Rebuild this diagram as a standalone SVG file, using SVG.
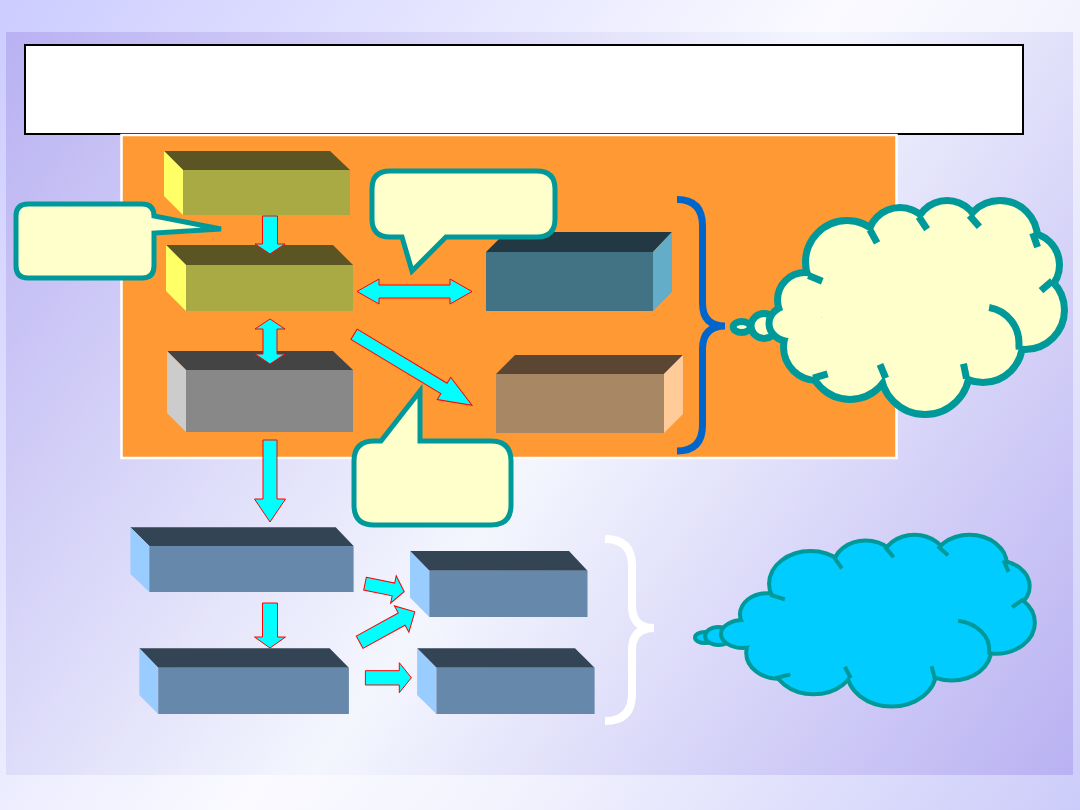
<svg xmlns="http://www.w3.org/2000/svg" width="1080" height="810" viewBox="0 0 1080 810">
<defs>
<linearGradient id="bgOuter" gradientUnits="userSpaceOnUse" x1="0" y1="0" x2="1080" y2="810">
<stop offset="0" stop-color="#ccccff"/>
<stop offset="0.5" stop-color="#fafaff"/>
<stop offset="0.65" stop-color="#f3f3fe"/>
<stop offset="1" stop-color="#ccccfa"/>
</linearGradient>
<linearGradient id="bgInner" gradientUnits="userSpaceOnUse" x1="6" y1="32" x2="1073" y2="775">
<stop offset="0" stop-color="#b9b1f2"/>
<stop offset="0.52" stop-color="#f4f6fe"/>
<stop offset="1" stop-color="#b9b1f2"/>
</linearGradient>
</defs>
<style>
.arrow{fill:#00ffff;stroke:#ff0000;stroke-width:1;stroke-linejoin:miter}
.callout{fill:#ffffcc;stroke:#009999;stroke-width:5;stroke-linejoin:miter}
.olT{fill:#5a5522}.olF{fill:#aaaa44}.olS{fill:#ffff66}
.grT{fill:#444444}.grF{fill:#888888}.grS{fill:#cccccc}
.tlT{fill:#223843}.tlF{fill:#427385}.tlS{fill:#64adc8}
.brT{fill:#5a4632}.brF{fill:#a88864}.brS{fill:#ffcc99}
.blT{fill:#334455}.blF{fill:#6688aa}.blS{fill:#99ccff}
.cl1 .b{fill:#ffffcc;stroke:#009999;stroke-width:7}
.cl1 .o{fill:#ffffcc;stroke:#009999;stroke-width:14}
.cl1 .f{fill:#ffffcc;stroke:none}
.cl1 .t{fill:none;stroke:#009999;stroke-width:7}
.cl2 *{vector-effect:non-scaling-stroke}
.cl2 .b{fill:#00ccff;stroke:#009999;stroke-width:4}
.cl2 .o{fill:#00ccff;stroke:#009999;stroke-width:8}
.cl2 .f{fill:#00ccff;stroke:none}
.cl2 .t{fill:none;stroke:#009999;stroke-width:4}
</style>
<rect width="1080" height="810" fill="url(#bgOuter)"/>
<rect x="6" y="32" width="1067" height="743" fill="url(#bgInner)"/>
<rect id="title-box" x="25" y="45" width="998" height="89" fill="#ffffff" stroke="#000000" stroke-width="2"/>
<rect id="panel" x="121.5" y="135" width="775" height="323" fill="#ff9933" stroke="#ffffff" stroke-width="2.5"/>
<path id="brace-blue" d="M677,199.5 Q702.5,199.5 702.5,226 V303 Q702.5,326 725,326 Q702.5,326 702.5,349 V425 Q702.5,451 677,451" fill="none" stroke="#0066cc" stroke-width="7"/>
<path id="brace-white" d="M605,539 Q632,539 632,566 V606 Q632,628 654,628 Q632,628 632,650 V694 Q632,721 605,721" fill="none" stroke="#ffffff" stroke-width="8"/>

<g id="box-1">
<polygon class="olT" points="164,151 330,151 350,170 183,170"/>
<polygon class="olS" points="164,151 183,170 183,215 164,196"/>
<rect class="olF" x="183" y="170" width="167" height="45"/>
</g>
<g id="box-2">
<polygon class="olT" points="166,245 333,245 353,265 186,265"/>
<polygon class="olS" points="166,245 186,265 186,311 166,291"/>
<rect class="olF" x="186" y="265" width="167" height="46"/>
</g>
<g id="box-3">
<polygon class="grT" points="167,351 333,351 353,370 186,370"/>
<polygon class="grS" points="167,351 186,370 186,432 167,413"/>
<rect class="grF" x="186" y="370" width="167" height="62"/>
</g>
<g id="box-4">
<polygon class="tlT" points="506,232 672,232 653,252 486,252"/>
<polygon class="tlS" points="653,252 672,232 672,292 653,311"/>
<rect class="tlF" x="486" y="252" width="167" height="59"/>
</g>
<g id="box-5">
<polygon class="brT" points="515,355 683,355 664,374 496,374"/>
<polygon class="brS" points="664,374 683,355 683,414 664,433"/>
<rect class="brF" x="496" y="374" width="168" height="59"/>
</g>
<g id="box-6">
<polygon class="blT" points="130.4,527.3 335.7,527.3 353.6,546 149.3,546"/>
<polygon class="blS" points="130.4,527.3 149.3,546 149.3,592 130.4,574"/>
<rect class="blF" x="149.3" y="546" width="204.3" height="46"/>
</g>
<g id="box-7">
<polygon class="blT" points="139.3,648.3 329.6,648.3 348.9,667.7 158.2,667.7"/>
<polygon class="blS" points="139.3,648.3 158.2,667.7 158.2,714 139.3,695"/>
<rect class="blF" x="158.2" y="667.7" width="190.7" height="46.3"/>
</g>
<g id="box-8">
<polygon class="blT" points="410,551 569,551 587.5,570.7 429.3,570.7"/>
<polygon class="blS" points="410,551 429.3,570.7 429.3,617 410,597.5"/>
<rect class="blF" x="429.3" y="570.7" width="158.2" height="46.3"/>
</g>
<g id="box-9">
<polygon class="blT" points="417.1,648.3 575,648.3 594.6,667.7 436.4,667.7"/>
<polygon class="blS" points="417.1,648.3 436.4,667.7 436.4,714 417.1,695"/>
<rect class="blF" x="436.4" y="667.7" width="158.2" height="46.3"/>
</g>

<g id="callout-1">
<path class="callout" d="M28,204 H142 Q154,204 154,216 L221,229 L154,233 V266 Q154,278 142,278 H28 Q16,278 16,266 V216 Q16,204 28,204 Z"/>
</g>
<g id="callout-2">
<path class="callout" d="M390,171 H537 Q555,171 555,189 V219 Q555,237 537,237 H446 L412,271 L402,237 H390 Q372,237 372,219 V189 Q372,171 390,171 Z"/>
</g>
<g id="callout-3">
<path class="callout" d="M374,441 H381 L420,391 V441 H491 Q511,441 511,461 V505 Q511,525 491,525 H374 Q354,525 354,505 V461 Q354,441 374,441 Z"/>
</g>

<g id="connectors">
<polygon class="arrow" points="262.5,216 277.5,216 277.5,244 285,244 270,254 255,244 262.5,244"/>
<polygon class="arrow" points="270,319 285,329 277,329 277,354 285,354 270,364 255,354 263,354 263,329 255,329"/>
<polygon class="arrow" points="357,291.5 379,279 379,285 450,285 450,279 472,291.5 450,304 450,298 379,298 379,304"/>
<polygon class="arrow" transform="translate(354,334.3) rotate(31.03)" points="0,-6 105,-6 105,-13 137.7,0 105,13 105,6 0,6"/>
<polygon class="arrow" points="263,440 277,440 277,499 285.5,499 270,522 254.5,499 263,499"/>
<polygon class="arrow" points="262.5,603 277.5,603 277.5,637 285.5,637 270,648 254.5,637 262.5,637"/>
<polygon class="arrow" transform="translate(365,583.7) rotate(11.5)" points="0,-6.5 29,-6.5 29,-14 40,0 29,14 29,6.5 0,6.5"/>
<polygon class="arrow" transform="translate(359.6,642.2) rotate(-28.8)" points="0,-7 48,-7 48,-15 63,0 48,15 48,7 0,7"/>
<polygon class="arrow" points="365.4,670.7 399.3,670.7 399.3,662.7 411.4,677.7 399.3,692.7 399.3,685 365.4,685"/>
</g>

<g id="cloud-1" class="cl1">
<circle class="o" cx="847" cy="262" r="38"/>
<circle class="o" cx="900" cy="240" r="29"/>
<circle class="o" cx="947" cy="233" r="29"/>
<circle class="o" cx="1000" cy="238" r="34"/>
<circle class="o" cx="1027" cy="265" r="29"/>
<circle class="o" cx="1025" cy="310" r="36"/>
<circle class="o" cx="983" cy="343" r="36"/>
<circle class="o" cx="925" cy="370" r="41"/>
<circle class="o" cx="850" cy="358" r="38"/>
<circle class="o" cx="817" cy="347" r="30"/>
<circle class="o" cx="805" cy="300" r="24"/>
<ellipse class="b" cx="741.7" cy="327" rx="8.5" ry="5.5"/>
<ellipse class="b" cx="764" cy="326" rx="13" ry="12.5"/>
<ellipse class="b" cx="790" cy="323.5" rx="21" ry="18"/>
<circle class="f" cx="847" cy="262" r="38"/>
<circle class="f" cx="900" cy="240" r="29"/>
<circle class="f" cx="947" cy="233" r="29"/>
<circle class="f" cx="1000" cy="238" r="34"/>
<circle class="f" cx="1027" cy="265" r="29"/>
<circle class="f" cx="1025" cy="310" r="36"/>
<circle class="f" cx="983" cy="343" r="36"/>
<circle class="f" cx="925" cy="370" r="41"/>
<circle class="f" cx="850" cy="358" r="38"/>
<circle class="f" cx="817" cy="347" r="30"/>
<circle class="f" cx="805" cy="300" r="24"/>
<ellipse class="f" cx="925" cy="305" rx="105" ry="70"/>
<path class="t" d="M869.9,229.7 L877.1,242.9"/>
<path class="t" d="M918.8,216.7 L927.1,229.2"/>
<path class="t" d="M969.5,215.5 L979.4,226.8"/>
<path class="t" d="M1032.7,233.1 L1037.6,247.2"/>
<path class="t" d="M1052.3,280.9 L1041,290.7"/>
<path class="t" d="M1019.2,349.5 L1018.9,345.5 A36,36 0 0 0 989.1,307.5"/>
<path class="t" d="M966.5,378.5 L963.5,363.8"/>
<path class="t" d="M885.7,378.2 L880,364.4"/>
<path class="t" d="M813.3,378.2 L827.6,373.8"/>
<path class="t" d="M808.4,275.6 L822.3,281.3"/>
</g>

<g id="cloud-2" class="cl2">
<g transform="matrix(1.039,0,0,0.81,-69.5,371.6)">
<circle class="o" cx="847" cy="262" r="38"/>
<circle class="o" cx="900" cy="240" r="29"/>
<circle class="o" cx="947" cy="233" r="29"/>
<circle class="o" cx="1000" cy="238" r="34"/>
<circle class="o" cx="1027" cy="265" r="29"/>
<circle class="o" cx="1025" cy="310" r="36"/>
<circle class="o" cx="983" cy="343" r="36"/>
<circle class="o" cx="925" cy="370" r="41"/>
<circle class="o" cx="850" cy="358" r="38"/>
<circle class="o" cx="817" cy="347" r="30"/>
<circle class="o" cx="805" cy="300" r="24"/>
</g>
<ellipse class="b" cx="705" cy="637.5" rx="10" ry="5.5"/>
<ellipse class="b" cx="718.5" cy="636" rx="13.5" ry="9"/>
<ellipse class="b" cx="743" cy="634" rx="22" ry="14"/>
<g transform="matrix(1.039,0,0,0.81,-69.5,371.6)">
<circle class="f" cx="847" cy="262" r="38"/>
<circle class="f" cx="900" cy="240" r="29"/>
<circle class="f" cx="947" cy="233" r="29"/>
<circle class="f" cx="1000" cy="238" r="34"/>
<circle class="f" cx="1027" cy="265" r="29"/>
<circle class="f" cx="1025" cy="310" r="36"/>
<circle class="f" cx="983" cy="343" r="36"/>
<circle class="f" cx="925" cy="370" r="41"/>
<circle class="f" cx="850" cy="358" r="38"/>
<circle class="f" cx="817" cy="347" r="30"/>
<circle class="f" cx="805" cy="300" r="24"/>
<ellipse class="f" cx="925" cy="305" rx="105" ry="70"/>
<path class="t" d="M869.9,229.7 L877.1,242.9"/>
<path class="t" d="M918.8,216.7 L927.1,229.2"/>
<path class="t" d="M969.5,215.5 L979.4,226.8"/>
<path class="t" d="M1032.7,233.1 L1037.6,247.2"/>
<path class="t" d="M1052.3,280.9 L1041,290.7"/>
<path class="t" d="M1019.2,349.5 L1018.9,345.5 A36,36 0 0 0 989.1,307.5"/>
<path class="t" d="M966.5,378.5 L963.5,363.8"/>
<path class="t" d="M885.7,378.2 L880,364.4"/>
<path class="t" d="M813.3,378.2 L827.6,373.8"/>
<path class="t" d="M808.4,275.6 L822.3,281.3"/>
</g>
</g>
</svg>
